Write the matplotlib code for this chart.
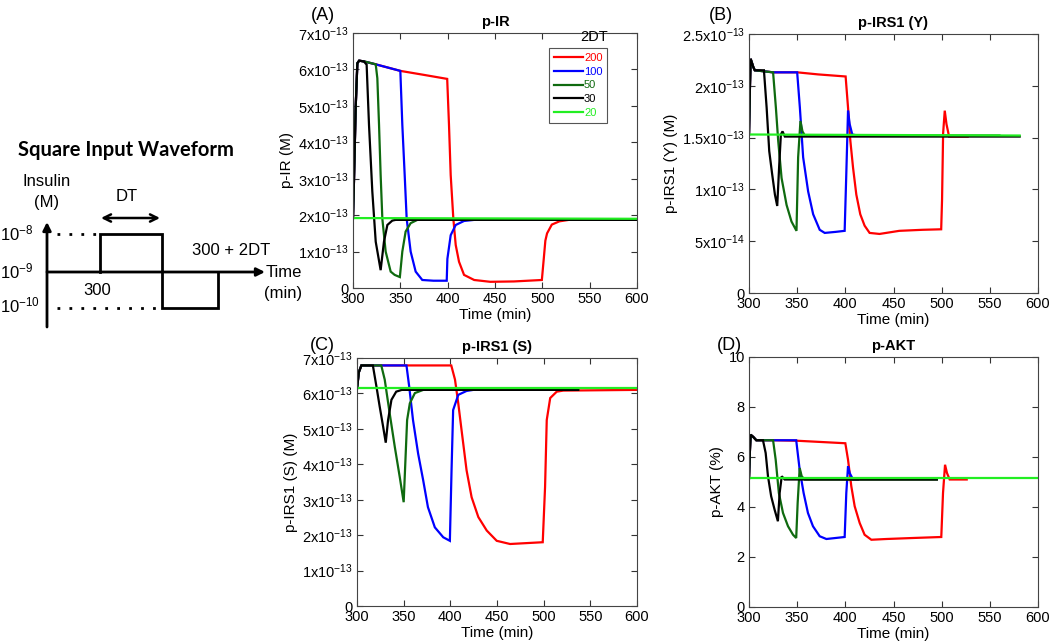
import numpy as np
import matplotlib
matplotlib.use("Agg")
import matplotlib.pyplot as plt

plt.rcParams['font.family'] = ['Liberation Sans', 'DejaVu Sans']
plt.rcParams['mathtext.fontset'] = 'custom'
plt.rcParams['mathtext.rm'] = 'Liberation Sans'
plt.rcParams['mathtext.it'] = 'Liberation Sans:italic'
plt.rcParams['mathtext.bf'] = 'Liberation Sans:bold'
plt.rcParams['mathtext.default'] = 'regular'

# ---------------- data ----------------
series_labels = ['200', '100', '50', '30', '20']
series_colors = ['#ff0000', '#0000ff', '#0f6a0f', '#000000', '#22ee22']
x_ticks = [300, 350, 400, 450, 500, 550, 600]

# Panel A: p-IR (units of 1e-13 M)
A_t_200 = [300, 301, 302.8, 304.6, 306.5, 311.5, 324, 350, 375, 399.5, 401.4, 403.2, 406, 408.5, 412, 417.3, 428, 445, 470, 499.5, 501.5, 503.2, 505, 510, 518, 528, 600]
A_v_200 = [1.92, 2.92, 4.94, 6.17, 6.24, 6.22, 6.14, 5.96, 5.85, 5.74, 4.48, 3.1, 1.9, 1.18, 0.72, 0.36, 0.22, 0.17, 0.18, 0.22, 0.8, 1.3, 1.5, 1.74, 1.83, 1.87, 1.87]
A_t_100 = [300, 301, 302.8, 304.6, 306.5, 311.5, 324, 337, 350, 352.1, 354.6, 356.7, 360.9, 366.2, 373.2, 385, 399, 399.7, 403.2, 408.5, 417.3, 428, 600]
A_v_100 = [1.92, 2.92, 4.94, 6.17, 6.24, 6.22, 6.14, 6.05, 5.96, 4.48, 3.1, 1.9, 1.0, 0.45, 0.22, 0.2, 0.2, 0.8, 1.45, 1.73, 1.84, 1.87, 1.87]
A_t_50 = [300, 301, 302.8, 304.6, 306.5, 311.5, 318, 324, 325.7, 327.5, 329.2, 331, 334.5, 339.8, 344, 349.5, 352.1, 355.6, 360.9, 368, 600]
A_v_50 = [1.92, 2.92, 4.94, 6.17, 6.24, 6.22, 6.18, 6.14, 5.76, 4.48, 3.1, 1.9, 1.0, 0.45, 0.36, 0.30, 1.0, 1.55, 1.78, 1.87, 1.87]
A_t_30 = [300, 301, 302.8, 304.6, 306.5, 311.5, 314.4, 316.9, 320.4, 324, 329.2, 332.7, 336.3, 341.5, 345, 600]
A_v_30 = [1.92, 2.92, 4.94, 6.17, 6.24, 6.22, 6.13, 4.48, 2.65, 1.27, 0.49, 1.27, 1.73, 1.85, 1.87, 1.87]
A_t_20 = [300, 600]
A_v_20 = [1.92, 1.90]

# Panel B: p-IRS1 (Y) (units of 1e-13 M)
B_t_200 = [300, 301, 301.7, 304.5, 306, 325, 350, 371.7, 400.3, 402.8, 405.2, 408, 411.4, 415.5, 420, 425.2, 435.5, 456, 480, 499.5, 500.4, 501.5, 503.2, 505, 507.7, 527]
B_v_200 = [1.53, 2.0, 2.26, 2.18, 2.15, 2.13, 2.13, 2.11, 2.09, 1.79, 1.47, 1.21, 0.95, 0.76, 0.65, 0.58, 0.57, 0.6, 0.61, 0.615, 0.9, 1.54, 1.76, 1.63, 1.51, 1.51]
B_t_100 = [300, 301, 301.7, 304.5, 306, 325, 350, 352.8, 356.2, 361.4, 366.6, 373.4, 378.6, 390, 399.3, 401, 402.8, 404.5, 407.2, 413]
B_v_100 = [1.53, 2.0, 2.26, 2.18, 2.15, 2.13, 2.13, 1.79, 1.31, 0.98, 0.76, 0.61, 0.58, 0.59, 0.6, 1.15, 1.76, 1.63, 1.53, 1.52]
B_t_50 = [300, 301, 301.7, 304.5, 306, 315, 325, 327.9, 330.3, 333.8, 339, 344.1, 349.3, 351, 353.4, 355.5, 358, 560]
B_v_50 = [1.53, 2.0, 2.26, 2.18, 2.15, 2.14, 2.13, 1.79, 1.47, 1.11, 0.85, 0.69, 0.60, 1.31, 1.66, 1.56, 1.52, 1.52]
B_t_30 = [300, 301, 301.7, 304.5, 306, 315.5, 318.3, 321, 324, 326.9, 329.3, 331.4, 333.1, 334.8, 337.2, 581]
B_v_30 = [1.53, 2.0, 2.26, 2.18, 2.15, 2.15, 1.79, 1.37, 1.15, 0.95, 0.84, 1.24, 1.53, 1.56, 1.51, 1.51]
B_t_20 = [300, 581]
B_v_20 = [1.53, 1.52]

# Panel C: p-IRS1 (S) (units of 1e-13 M)
C_t_200 = [300, 302, 304.7, 317, 401, 405, 408.5, 412, 417.4, 422.8, 430, 439, 449.7, 464, 478, 499, 501.5, 503.3, 507, 514, 521, 600]
C_v_200 = [6.13, 6.6, 6.79, 6.79, 6.79, 6.39, 5.72, 4.97, 3.83, 3.07, 2.51, 2.13, 1.84, 1.75, 1.77, 1.80, 3.36, 5.25, 5.87, 6.05, 6.08, 6.1]
C_t_100 = [300, 302, 304.7, 317, 353, 355.9, 360, 365.5, 370.9, 376, 383.4, 392.4, 399.5, 401.3, 403, 408.5, 417.4, 424.6]
C_v_100 = [6.13, 6.6, 6.79, 6.79, 6.79, 6.2, 5.25, 4.3, 3.55, 2.79, 2.22, 1.94, 1.84, 3.83, 5.53, 5.96, 6.07, 6.1]
C_t_50 = [300, 302, 304.7, 317, 326, 329.7, 335, 340.5, 345.8, 350, 351.9, 353.7, 356.6, 362, 371, 537]
C_v_50 = [6.13, 6.6, 6.79, 6.79, 6.79, 6.39, 5.44, 4.49, 3.64, 2.93, 4.12, 5.25, 5.72, 6.01, 6.1, 6.1]
C_t_30 = [300, 302, 304.7, 317, 320.8, 324.3, 328, 330.8, 333.3, 336.9, 342, 348, 537]
C_v_30 = [6.13, 6.6, 6.79, 6.79, 6.2, 5.63, 5.06, 4.61, 5.25, 5.82, 6.05, 6.1, 6.1]
C_t_20 = [300, 600]
C_v_20 = [6.15, 6.15]

# Panel D: p-AKT (%)
D_t_200 = [300, 301, 301.7, 304.5, 307.6, 325, 350, 375, 400, 402.8, 406.2, 409.7, 414.9, 420, 427, 442.6, 470, 499.6, 501.4, 503.5, 505.5, 508.3, 526]
D_v_200 = [5.15, 6.3, 6.89, 6.8, 6.67, 6.67, 6.65, 6.6, 6.55, 5.89, 4.83, 4.03, 3.36, 2.89, 2.69, 2.72, 2.76, 2.8, 4.56, 5.69, 5.36, 5.1, 5.1]
D_t_100 = [300, 301, 301.7, 304.5, 307.6, 325, 349, 352.6, 356.7, 361.2, 366.4, 373.4, 380.3, 399.3, 401, 402.8, 404.5, 408, 413]
D_v_100 = [5.15, 6.3, 6.89, 6.8, 6.67, 6.67, 6.67, 5.49, 4.56, 3.76, 3.23, 2.83, 2.72, 2.8, 4.56, 5.63, 5.36, 5.1, 5.1]
D_t_50 = [300, 301, 301.7, 304.5, 307.6, 325, 327.7, 331, 335.3, 340.5, 345.7, 349, 350.5, 352.6, 354.7, 357.8, 495]
D_v_50 = [5.15, 6.3, 6.89, 6.8, 6.67, 6.67, 5.89, 4.56, 3.76, 3.23, 2.89, 2.76, 4.16, 5.56, 5.23, 5.1, 5.1]
D_t_30 = [300, 301, 301.7, 304.5, 307.6, 314.5, 317.3, 319.7, 323, 326.6, 330, 331.8, 334, 337, 495]
D_v_30 = [5.15, 6.3, 6.89, 6.8, 6.67, 6.67, 6.16, 5.23, 4.43, 3.89, 3.43, 4.56, 5.23, 5.1, 5.1]
D_t_20 = [300, 600]
D_v_20 = [5.15, 5.15]

A_yticks = [0, 1, 2, 3, 4, 5, 6, 7]
A_yticklabels = ['0'] + [f'{k}x10$^{{-13}}$' for k in range(1, 8)]
B_yticks = [0, 0.5, 1, 1.5, 2, 2.5]
B_yticklabels = ['0', '5x10$^{-14}$', '1x10$^{-13}$', '1.5x10$^{-13}$', '2x10$^{-13}$', '2.5x10$^{-13}$']
C_yticks = A_yticks
C_yticklabels = A_yticklabels
D_yticks = [0, 2, 4, 6, 8, 10]
D_yticklabels = ['0', '2', '4', '6', '8', '10']

# ---------------- figure ----------------
W, H = 1050, 644
fig = plt.figure(figsize=(W / 100, H / 100), dpi=100)


def px_axes(x0, y0, x1, y1):
    return fig.add_axes([x0 / W, 1 - y1 / H, (x1 - x0) / W, (y1 - y0) / H])


def style(ax, ylim, yticks, yticklabels, title, ylabel):
    ax.set_xlim(300, 600)
    ax.set_ylim(*ylim)
    ax.set_xticks(x_ticks)
    ax.set_yticks(yticks)
    ax.set_yticklabels(yticklabels)
    ax.tick_params(direction='in', top=True, right=True, length=4, width=0.8,
                   labelsize=10.5, pad=3, colors='#333333', labelcolor='black')
    for s in ax.spines.values():
        s.set_color('#444444')
        s.set_linewidth(0.8)
    ax.set_title(title, fontsize=10.5, fontweight='bold', pad=5)
    ax.set_xlabel('Time (min)', fontsize=11, labelpad=1)
    ax.set_ylabel(ylabel, fontsize=11, labelpad=3)


def draw(ax, data):
    handles = []
    for (t, v), c, lab in zip(data, series_colors, series_labels):
        h, = ax.plot(t, v, color=c, lw=1.6, label=lab, solid_joinstyle='miter')
        handles.append(h)
    return handles


axA = px_axes(353, 33, 637, 288)
hA = draw(axA, [(A_t_200, A_v_200), (A_t_100, A_v_100), (A_t_50, A_v_50), (A_t_30, A_v_30), (A_t_20, A_v_20)])
style(axA, (0, 7), A_yticks, A_yticklabels, 'p-IR', 'p-IR (M)')
leg = axA.legend(handles=hA, loc='upper left', bbox_to_anchor=(0.69, 0.94), fontsize=8,
                 handlelength=2.6, handletextpad=0.1, labelspacing=0.32, borderpad=0.45,
                 borderaxespad=0.0,
                 fancybox=False, edgecolor='#555555', labelcolor='linecolor', framealpha=1)
leg.get_frame().set_linewidth(0.8)
axA.text(0.85, 0.985, '2DT', transform=axA.transAxes, ha='center', va='center', fontsize=10.5)

axB = px_axes(749, 34, 1038, 293)
draw(axB, [(B_t_200, B_v_200), (B_t_100, B_v_100), (B_t_50, B_v_50), (B_t_30, B_v_30), (B_t_20, B_v_20)])
style(axB, (0, 2.5), B_yticks, B_yticklabels, 'p-IRS1 (Y)', 'p-IRS1 (Y) (M)')

axC = px_axes(357, 358, 637, 606)
draw(axC, [(C_t_200, C_v_200), (C_t_100, C_v_100), (C_t_50, C_v_50), (C_t_30, C_v_30), (C_t_20, C_v_20)])
style(axC, (0, 7), C_yticks, C_yticklabels, 'p-IRS1 (S)', 'p-IRS1 (S) (M)')

axD = px_axes(749, 357, 1038, 607)
draw(axD, [(D_t_200, D_v_200), (D_t_100, D_v_100), (D_t_50, D_v_50), (D_t_30, D_v_30), (D_t_20, D_v_20)])
style(axD, (0, 10), D_yticks, D_yticklabels, 'p-AKT', 'p-AKT (%)')

# panel letters
for lab, (x, y) in zip(['(A)', '(B)', '(C)', '(D)'], [(323, 16), (721, 16), (322, 346), (729, 346)]):
    fig.text(x / W, 1 - y / H, lab, fontsize=13, ha='center', va='center')

# ---------------- schematic (pixel coordinates) ----------------
sch = fig.add_axes([0, 0, 1, 1], zorder=-1)
sch.set_xlim(0, W)
sch.set_ylim(H, 0)
sch.axis('off')

lw = 2.0
# vertical axis with arrow
sch.annotate('', xy=(47, 222), xytext=(47, 327),
             arrowprops=dict(arrowstyle='-|>', lw=lw, color='black', mutation_scale=12, shrinkA=0, shrinkB=0))
# horizontal time axis with arrow
sch.annotate('', xy=(265, 272), xytext=(47, 272),
             arrowprops=dict(arrowstyle='-|>', lw=lw, color='black', mutation_scale=12, shrinkA=0, shrinkB=0))
# waveform
sch.plot([100, 100, 162, 162, 218, 218], [272, 234, 234, 308, 308, 272], color='black', lw=lw,
         solid_joinstyle='miter')
# dotted level guides
sch.plot([57, 97], [234, 234], color='black', lw=2, linestyle=(0, (1, 3.3)))
sch.plot([57, 159], [308, 308], color='black', lw=2, linestyle=(0, (1, 3.3)))
# DT double arrow
sch.annotate('', xy=(160, 218), xytext=(101, 218),
             arrowprops=dict(arrowstyle='<->', lw=1.8, color='black', mutation_scale=13, shrinkA=0, shrinkB=0))

sch.text(126, 150, 'Square Input Waveform', fontsize=14.5, fontweight='bold', ha='center', va='center',
         family=['Lato', 'DejaVu Sans'])
sch.text(47, 181, 'Insulin', fontsize=12, ha='center', va='center')
sch.text(47, 202, '(M)', fontsize=12, ha='center', va='center')
sch.text(127, 196, 'DT', fontsize=12, ha='center', va='center')
sch.text(231, 250, '300 + 2DT', fontsize=12, ha='center', va='center')
sch.text(97, 290, '300', fontsize=12, ha='center', va='center')
sch.text(266, 272, 'Time', fontsize=12, ha='left', va='center')
sch.text(264, 293, '(min)', fontsize=12, ha='left', va='center')
for lab, y in zip(['10$^{-8}$', '10$^{-9}$', '10$^{-10}$'], [233, 271, 305]):
    sch.text(0, y, lab, fontsize=12, ha='left', va='center')

fig.savefig('out.png', dpi=100)
